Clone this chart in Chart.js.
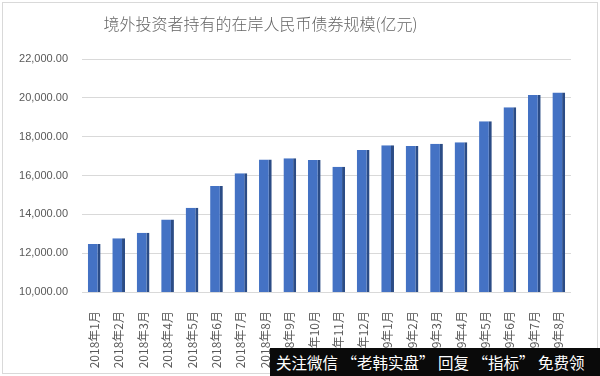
<!DOCTYPE html>
<html>
<head>
<meta charset="utf-8">
<script src="https://cdn.jsdelivr.net/npm/chart.js@4/dist/chart.umd.min.js"></script>
<style>
  html, body { margin: 0; padding: 0; background: #fff; }
  #wrap { position: relative; width: 600px; height: 376px; overflow: hidden; }
  #frame { position: absolute; left: 2px; top: 2px; right: 2px; bottom: 2px; border: 1px solid #d9d9d9; pointer-events: none; }
  #title { position: absolute; left: 0; top: 11px; width: 521px; text-align: center;
           font: 300 16px "Noto Sans CJK SC", sans-serif; color: #666; }
  #mark { position: absolute; left: 270px; top: 348px; width: 340px; height: 30px; background: #0a0a0a;
          color: #fff; font: 15.5px "Noto Sans CJK SC", sans-serif; line-height: 28px; white-space: nowrap;
          padding-left: 6px; box-sizing: border-box; }
</style>
</head>
<body>
<div id="wrap">
  <canvas id="chart" width="600" height="376"></canvas>
  <div id="frame"></div>
  <div id="title">境外投资者持有的在岸人民币债券规模(亿元)</div>
  <div id="mark">关注微信 “老韩实盘” 回复 “指标” 免费领</div>
</div>
<script>
const months = ["2018年1月", "2018年2月", "2018年3月", "2018年4月", "2018年5月", "2018年6月",
                "2018年7月", "2018年8月", "2018年9月", "2018年10月", "2018年11月", "2018年12月",
                "2019年1月", "2019年2月", "2019年3月", "2019年4月", "2019年5月", "2019年6月",
                "2019年7月", "2019年8月"];

// 境外投资者持有规模 (亿元)
const holdings = [12470, 12770, 13050, 13740, 14340, 15460,
                  16110, 16830, 16890, 16800, 16450, 17310,
                  17560, 17520, 17640, 17710, 18790, 19510,
                  20150, 20270];

const yMin = 10000;
const yMax = 22000;
const yStep = 2000;

function drawChart() {
    const ctx = document.getElementById("chart").getContext("2d");

    new Chart(ctx, {
        type: "bar",
        data: {
            labels: months,
            datasets: [{
                data: holdings,
                backgroundColor: "#4472c4",
                borderColor: "#2b4c86",
                borderWidth: { top: 0, right: 3, bottom: 0, left: 0 },
                borderSkipped: false,
                categoryPercentage: 1,
                barPercentage: 0.52
            }]
        },
        options: {
            responsive: false,
            animation: false,
            layout: { padding: { top: 59, right: 29, left: 0, bottom: 0 } },
            plugins: {
                legend: { display: false },
                title: { display: false },
                tooltip: { enabled: false }
            },
            scales: {
                x: {
                    grid: { display: false },
                    border: { display: false },
                    ticks: {
                        color: "#595959",
                        font: { family: "'Noto Sans CJK SC', sans-serif", size: 12 },
                        autoSkip: false,
                        minRotation: 90,
                        maxRotation: 90,
                        padding: 11
                    },
                    afterFit: scale => { scale.height = 84; }
                },
                y: {
                    min: yMin,
                    max: yMax,
                    grid: { color: "#d9d9d9", drawTicks: false },
                    border: { display: false },
                    ticks: {
                        stepSize: yStep,
                        color: "#595959",
                        font: { family: "'Liberation Sans', sans-serif", size: 11 },
                        padding: 14,
                        callback: v => v.toLocaleString("en-US", { minimumFractionDigits: 2, maximumFractionDigits: 2 })
                    },
                    afterFit: scale => { scale.width = 82; }
                }
            }
        }
    });
}
window.addEventListener("load", drawChart);
</script>
</body>
</html>
